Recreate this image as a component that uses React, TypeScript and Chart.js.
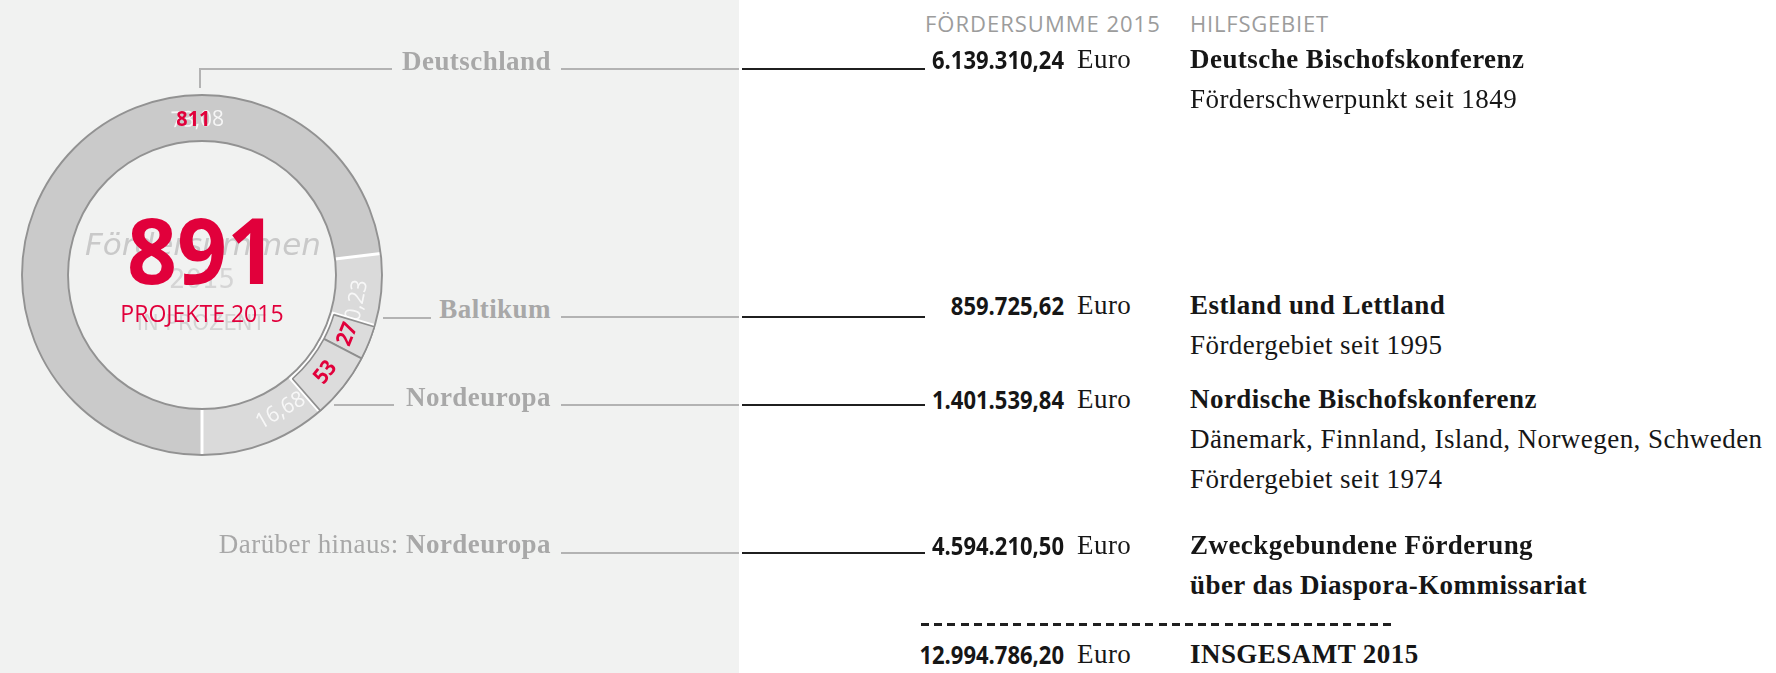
import React, { useEffect, useRef } from 'react';
import { Chart, registerables } from 'chart.js';

Chart.register(...registerables);

// ---------- data ----------
const regions = ['Deutschland', 'Baltikum', 'Nordeuropa'];
const fundingShare = [73.08, 10.23, 16.68];
const fundingShareLabels = ['73,08', '10,23', '16,68'];
const projects = [811, 27, 53];
const projectTotal = '891';
const amounts = ['6.139.310,24', '859.725,62', '1.401.539,84', '4.594.210,50'];
const totalAmount = '12.994.786,20';
const leftLabelsPrefix = ['', '', '', 'Darüber hinaus: '];
const leftLabels = ['Deutschland', 'Baltikum', 'Nordeuropa', 'Nordeuropa'];
const hilfsTitles = [
  ['Deutsche Bischofskonferenz'],
  ['Estland und Lettland'],
  ['Nordische Bischofskonferenz'],
  ['Zweckgebundene Förderung', 'über das Diaspora-Kommissariat'],
];
const hilfsDetails = [
  ['Förderschwerpunkt seit 1849'],
  ['Fördergebiet seit 1995'],
  ['Dänemark, Finnland, Island, Norwegen, Schweden', 'Fördergebiet seit 1974'],
  [],
];
const headerAmount = 'FÖRDERSUMME 2015';
const headerArea = 'HILFSGEBIET';
const totalLabel = 'INSGESAMT 2015';
const centerSub = 'PROJEKTE 2015';
const ghostCenter = ['Fördersummen', '2015', 'IN PROZENT'];

// ---------- style ----------
const RED = '#e1003b';
const PANEL = '#f1f2f1';
const FONTS: any = {
  sans: '"Open Sans", sans-serif',
  serif: '"Liberation Serif", serif',
  dejavu: '"DejaVu Sans", sans-serif',
};
const K: any = { sans: 0.888, serif: 0.8375, dejavu: 0.846 };

function T(p: any) {
  const shift = p.align === 'right' ? ' translateX(-100%)' : p.align === 'center' ? ' translateX(-50%)' : '';
  return (
    <div
      style={{
        position: 'absolute',
        left: p.x,
        top: p.y - K[p.font] * p.size,
        fontFamily: FONTS[p.font],
        fontSize: p.size,
        lineHeight: `${p.size}px`,
        fontWeight: p.weight ?? 400,
        fontStyle: p.italic ? 'italic' : 'normal',
        color: p.color,
        whiteSpace: 'nowrap',
        letterSpacing: p.ls ? `${p.ls}px` : undefined,
        transformOrigin: '0 0',
        transform: `scaleX(${p.sx ?? 1})${shift}`,
      }}
    >
      {p.children}
    </div>
  );
}

function HLine(p: { x1: number; x2: number; y: number; color: string; w?: number }) {
  const w = p.w ?? 2;
  return (
    <div style={{ position: 'absolute', left: p.x1, top: p.y - w / 2, width: p.x2 - p.x1, height: w, background: p.color }} />
  );
}
function VLine(p: { x: number; y1: number; y2: number; color: string; w?: number }) {
  const w = p.w ?? 2;
  return (
    <div style={{ position: 'absolute', left: p.x - w / 2, top: p.y1, width: w, height: p.y2 - p.y1, background: p.color }} />
  );
}

function drawText(ctx: CanvasRenderingContext2D, text: string, x: number, y: number, rot: number, font: string, color: string, sx = 1) {
  ctx.save();
  ctx.translate(x, y);
  ctx.rotate(rot);
  ctx.scale(sx, 1);
  ctx.font = font;
  ctx.fillStyle = color;
  ctx.textAlign = 'center';
  ctx.textBaseline = 'middle';
  ctx.fillText(text, 0, 0);
  ctx.restore();
}

const CW = 404;
const CH = 550;

function Ring() {
  const c1 = useRef<HTMLCanvasElement>(null);
  const c2 = useRef<HTMLCanvasElement>(null);

  useEffect(() => {
    const ringDecor = {
      id: 'ringDecor',
      afterDatasetsDraw(chart: any) {
        const arcs = chart.getDatasetMeta(0).data as any[];
        const ctx: CanvasRenderingContext2D = chart.ctx;
        const { x, y, innerRadius, outerRadius } = arcs[0].getProps(['x', 'y', 'innerRadius', 'outerRadius'], true);
        ctx.save();
        ctx.strokeStyle = '#ffffff';
        ctx.lineWidth = 3;
        arcs.forEach((a) => {
          const s = a.startAngle;
          ctx.beginPath();
          ctx.moveTo(x + Math.cos(s) * innerRadius, y + Math.sin(s) * innerRadius);
          ctx.lineTo(x + Math.cos(s) * outerRadius, y + Math.sin(s) * outerRadius);
          ctx.stroke();
        });
        ctx.strokeStyle = '#929292';
        ctx.lineWidth = 1.9;
        ctx.beginPath();
        ctx.arc(x, y, outerRadius, 0, Math.PI * 2);
        ctx.stroke();
        ctx.beginPath();
        ctx.arc(x, y, innerRadius, 0, Math.PI * 2);
        ctx.stroke();
        const mid = (innerRadius + outerRadius) / 2;
        const ghost = 'rgba(250,250,250,0.92)';
        const f = '400 22px "Open Sans", sans-serif';
        const tA = -Math.PI / 2 - 0.03;
        drawText(ctx, fundingShareLabels[0], x + Math.cos(tA) * mid, y + Math.sin(tA) * mid + 2, tA + Math.PI / 2, f, ghost, 0.95);
        [1, 2].forEach((i) => {
          const a = arcs[i];
          const m = (a.startAngle + a.endAngle) / 2;
          drawText(ctx, fundingShareLabels[i], x + Math.cos(m) * mid, y + Math.sin(m) * mid, m - Math.PI / 2, f, ghost, 0.95);
        });
        ctx.restore();
      },
    };

    const boxDecor = {
      id: 'boxDecor',
      beforeDatasetsDraw(chart: any) {
        const arcs = chart.getDatasetMeta(0).data as any[];
        const ctx: CanvasRenderingContext2D = chart.ctx;
        ctx.save();
        const { x, y } = arcs[0].getProps(['x', 'y'], true);
        ctx.beginPath();
        ctx.arc(x, y, 178.8, 0, Math.PI * 2);
        ctx.arc(x, y, 135.2, Math.PI * 2, 0, true);
        ctx.clip();
        ctx.strokeStyle = '#ffffff';
        ctx.lineWidth = 5;
        ctx.lineJoin = 'round';
        [1, 2].forEach((i) => {
          const a = arcs[i];
          const { startAngle, endAngle, innerRadius, outerRadius } = a.getProps(['startAngle', 'endAngle', 'innerRadius', 'outerRadius'], true);
          ctx.beginPath();
          ctx.arc(x, y, outerRadius, startAngle, endAngle);
          ctx.arc(x, y, innerRadius, endAngle, startAngle, true);
          ctx.closePath();
          ctx.stroke();
        });
        ctx.restore();
      },
      afterDatasetsDraw(chart: any) {
        const arcs = chart.getDatasetMeta(0).data as any[];
        const ctx: CanvasRenderingContext2D = chart.ctx;
        const { x, y, innerRadius, outerRadius } = arcs[0].getProps(['x', 'y', 'innerRadius', 'outerRadius'], true);
        const mid = (innerRadius + outerRadius) / 2;
        const f = '700 22px "Open Sans", sans-serif';
        const tA = -Math.PI / 2 - 0.055;
        drawText(ctx, String(projects[0]), x + Math.cos(tA) * mid, y + Math.sin(tA) * mid + 2, 0, f, RED, 0.9);
        [1, 2].forEach((i) => {
          const a = arcs[i];
          const m = (a.startAngle + a.endAngle) / 2;
          drawText(ctx, String(projects[i]), x + Math.cos(m) * mid, y + Math.sin(m) * mid, m - Math.PI / 2, f, RED, 0.9);
        });
      },
    };

    const common = {
      responsive: false,
      animation: false as const,
      events: [] as any[],
      layout: { padding: 0 },
      plugins: { legend: { display: false }, tooltip: { enabled: false } },
    };

    const ch1 = new Chart(c1.current as HTMLCanvasElement, {
      type: 'doughnut',
      data: {
        labels: regions,
        datasets: [
          {
            data: fundingShare,
            backgroundColor: ['#cacaca', '#dadada', '#dadada'],
            borderWidth: 0,
            radius: 180,
            cutout: '74.44%',
            rotation: 180,
          } as any,
        ],
      },
      options: { ...common, radius: 180, cutout: '74.44%', rotation: 180 } as any,
      plugins: [ringDecor],
    });

    const ch2 = new Chart(c2.current as HTMLCanvasElement, {
      type: 'doughnut',
      data: {
        labels: regions,
        datasets: [
          {
            data: projects,
            backgroundColor: ['rgba(0,0,0,0)', '#dcdcdc', '#dcdcdc'],
            borderColor: ['rgba(0,0,0,0)', '#8e8e8e', '#8e8e8e'],
            borderWidth: [0, 1.6, 1.6],
            spacing: 3,
            radius: 178.5,
            cutout: '76.3%',
            rotation: 139,
          } as any,
        ],
      },
      options: { ...common, radius: 178.5, cutout: '76.3%', rotation: 139 } as any,
      plugins: [boxDecor],
    });

    return () => {
      ch1.destroy();
      ch2.destroy();
    };
  }, []);

  return (
    <>
      <canvas ref={c1} width={CW} height={CH} style={{ position: 'absolute', left: 0, top: 0, width: CW, height: CH }} />
      <canvas ref={c2} width={CW} height={CH} style={{ position: 'absolute', left: 0, top: 0, width: CW, height: CH }} />
    </>
  );
}

export default function App() {
  const rowBase = [69, 315, 409, 555];
  const lineY = [69, 317, 405, 553];
  const labelBase = [71, 319, 407, 554];
  const gap = 39.8;
  const grayTxt = '#a8a8a8';
  const grayLine = '#b3b3b3';
  const dark = '#161616';
  const serifSize = 27;
  const ls = 0.45;

  return (
    <div style={{ position: 'fixed', left: 0, top: 0, width: 1776, height: 673, background: '#ffffff', overflow: 'hidden' }}>
      <div style={{ position: 'absolute', left: 0, top: 0, width: 739, height: 673, background: PANEL }} />

      <Ring />

      {/* ghost center text */}
      <T x={203} y={255} size={31} font="dejavu" italic align="center" color="#c9c9c9">{ghostCenter[0]}</T>
      <T x={202} y={288} size={26} font="dejavu" align="center" color="#d5d5d5">{ghostCenter[1]}</T>
      <T x={201} y={331} size={21} font="dejavu" align="center" color="#d3d3d3">{ghostCenter[2]}</T>

      {/* center */}
      <T x={202} y={285} size={92} font="sans" weight={700} align="center" sx={0.95} color={RED}>{projectTotal}</T>
      <T x={202} y={322} size={24} font="sans" align="center" sx={0.96} color={RED}>{centerSub}</T>

      {/* ring connectors */}
      <VLine x={200} y1={68} y2={88} color={grayLine} />
      <HLine x1={199} x2={392} y={69} color={grayLine} />
      <HLine x1={383} x2={431} y={318} color={grayLine} />
      <HLine x1={334} x2={394} y={405} color={grayLine} />

      {/* left labels + leader lines */}
      {leftLabels.map((l, i) => (
        <React.Fragment key={'l' + i}>
          <T x={551} y={labelBase[i]} size={serifSize} font="serif" align="right" ls={ls} color={grayTxt}>
            {leftLabelsPrefix[i] ? <span style={{ fontWeight: 400 }}>{leftLabelsPrefix[i]}</span> : null}
            <span style={{ fontWeight: 700 }}>{l}</span>
          </T>
          <HLine x1={561} x2={739} y={lineY[i]} color={grayLine} />
          <HLine x1={742} x2={925} y={lineY[i]} color="#1f1f1f" />
        </React.Fragment>
      ))}

      {/* headers */}
      <T x={925} y={32} size={22} font="sans" ls={1} color="#9c9c9c">{headerAmount}</T>
      <T x={1190} y={32} size={22} font="sans" ls={0.8} color="#9c9c9c">{headerArea}</T>

      {/* amounts */}
      {amounts.map((a, i) => (
        <React.Fragment key={'a' + i}>
          <T x={1064} y={rowBase[i]} size={25} font="sans" weight={700} align="right" sx={0.88} color={dark}>{a}</T>
          <T x={1077} y={rowBase[i]} size={serifSize} font="serif" ls={ls} color={dark}>Euro</T>
        </React.Fragment>
      ))}

      {/* hilfsgebiet */}
      {hilfsTitles.map((lines, i) => (
        <React.Fragment key={'h' + i}>
          {lines.map((t, j) => (
            <T key={'t' + j} x={1190} y={rowBase[i] + j * gap} size={serifSize} font="serif" weight={700} ls={ls} color={dark}>{t}</T>
          ))}
          {hilfsDetails[i].map((t, j) => (
            <T key={'d' + j} x={1190} y={rowBase[i] + (lines.length + j) * gap} size={serifSize} font="serif" ls={ls} color={dark}>{t}</T>
          ))}
        </React.Fragment>
      ))}

      {/* total */}
      <div
        style={{
          position: 'absolute',
          left: 921,
          top: 623,
          width: 475,
          height: 3,
          background: 'repeating-linear-gradient(to right, #1f1f1f 0px, #1f1f1f 8px, transparent 8px, transparent 13.2px)',
        }}
      />
      <T x={1064} y={664} size={25} font="sans" weight={700} align="right" sx={0.88} color={dark}>{totalAmount}</T>
      <T x={1077} y={664} size={serifSize} font="serif" ls={ls} color={dark}>Euro</T>
      <T x={1190} y={664} size={serifSize} font="serif" weight={700} ls={ls} color={dark}>{totalLabel}</T>
    </div>
  );
}
